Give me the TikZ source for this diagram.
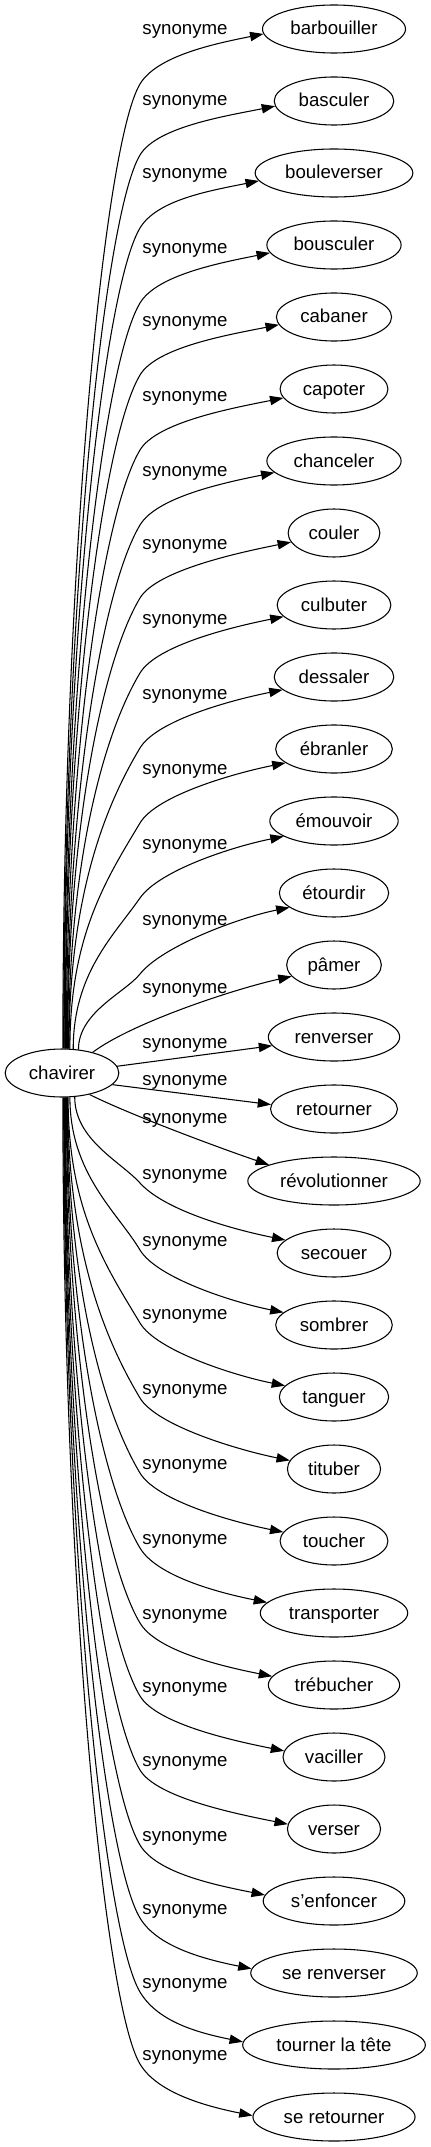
\documentclass[tikz,border=0pt]{standalone}
\usepackage{fontspec}
\setmainfont{Liberation Sans}
\usetikzlibrary{shapes.geometric,arrows.meta}

\begin{document}
\begin{tikzpicture}[
  x=0.75pt, y=-0.75pt,
  word/.style={ellipse, draw=black, line width=0.8pt, minimum height=36pt,
               inner xsep=5.25pt, inner ysep=3pt, text height=11pt, text depth=2pt,
               font=\fontsize{14pt}{17pt}\selectfont},
  rel/.style={inner sep=0pt, text height=11pt, text depth=2pt,
              font=\fontsize{14pt}{17pt}\selectfont},
  syn/.style={-{Triangle[length=10pt,width=7pt]}, line width=0.8pt},
]

% background
\fill[white] (0,0) rectangle (430,2147);

% head word
\node[word] (chavirer) at (62,1073) {chavirer};

% synonyms
\node[word] (barbouiller)   at (334,29)   {barbouiller};
\node[word] (basculer)      at (334,101)  {basculer};
\node[word] (bouleverser)   at (334,173)  {bouleverser};
\node[word] (bousculer)     at (334,245)  {bousculer};
\node[word] (cabaner)       at (334,317)  {cabaner};
\node[word] (capoter)       at (334,389)  {capoter};
\node[word] (chanceler)     at (334,461)  {chanceler};
\node[word] (couler)        at (334,533)  {couler};
\node[word] (culbuter)      at (334,605)  {culbuter};
\node[word] (dessaler)      at (334,677)  {dessaler};
\node[word] (ebranler)      at (334,749)  {ébranler};
\node[word] (emouvoir)      at (334,821)  {émouvoir};
\node[word] (etourdir)      at (334,893)  {étourdir};
\node[word] (pamer)         at (334,965)  {pâmer};
\node[word] (renverser)     at (334,1037) {renverser};
\node[word] (retourner)     at (334,1109) {retourner};
\node[word] (revolutionner) at (334,1181) {révolutionner};
\node[word] (secouer)       at (334,1253) {secouer};
\node[word] (sombrer)       at (334,1325) {sombrer};
\node[word] (tanguer)       at (334,1397) {tanguer};
\node[word] (tituber)       at (334,1469) {tituber};
\node[word] (toucher)       at (334,1541) {toucher};
\node[word] (transporter)   at (334,1613) {transporter};
\node[word] (trebucher)     at (334,1685) {trébucher};
\node[word] (vaciller)      at (334,1757) {vaciller};
\node[word] (verser)        at (334,1829) {verser};
\node[word] (senfoncer)     at (334,1901) {s'enfoncer};
\node[word] (serenverser)   at (334,1973) {se renverser};
\node[word] (tournerlatete) at (334,2045) {tourner la tête};
\node[word] (seretourner)   at (334,2117) {se retourner};

% upper fan
\foreach \w/\ly/\sa/\ea/\tang in {
  barbouiller/29/88/184/0.6, basculer/100/86/185/0.6, bouleverser/173/85/186/0.6,
  bousculer/248/83/187/0.6, cabaner/320/82/188/0.6, capoter/395/80/190/0.6,
  chanceler/470/78/191/0.6, couler/543/77/192/0.6, culbuter/618/75/193/0.6,
  dessaler/693/74/194/0.6, ebranler/768/72/196/0.6, emouvoir/843/65/197/0.7,
  etourdir/919/55/198/0.8}{
  \pgfmathsetmacro\hgt{994-\ly}
  \pgfmathsetmacro\mlen{min(0.25*\hgt,60)}
  \coordinate (k\w) at (140,{\ly+55});
  \node[rel] (l\w) at (185,\ly) {synonyme};
  \draw[syn] (chavirer.\sa) .. controls +(0,{-0.5*\hgt}) and +({-\tang*\mlen},\mlen) .. (k\w)
    .. controls +({\tang*28},-28) and +(-50,10) .. (\w.\ea);
}

% middle edges
\node[rel] (lpamer)         at (185,987)  {synonyme};
\node[rel] (lrenverser)     at (185,1042) {synonyme};
\node[rel] (lretourner)     at (185,1079) {synonyme};
\node[rel] (lrevolutionner) at (185,1117) {synonyme};
\draw[syn] (chavirer.34) .. controls +(40,-30) and +(-55,12) .. (pamer.195);
\draw[syn] (chavirer.7) -- (renverser.188);
\draw[syn] (chavirer.-13) -- (retourner.176);
\draw[syn] (chavirer.-38) .. controls +(40,20) and +(-50,-17) .. (revolutionner.166);

% lower fan
\foreach \w/\ly/\sa/\ea/\tang in {
  secouer/1173/-62/165/0.9, sombrer/1240/-72/166/0.6, tanguer/1313/-76/167/0.6,
  tituber/1388/-77/169/0.6, toucher/1463/-78/170/0.6, transporter/1538/-79/171/0.6,
  trebucher/1613/-80/172/0.6, vaciller/1686/-82/173/0.6, verser/1760/-83/174/0.6,
  senfoncer/1835/-84/175/0.6, serenverser/1908/-85/177/0.6,
  tournerlatete/1982/-86/178/0.6, seretourner/2054/-88/179/0.6}{
  \pgfmathsetmacro\hgt{\ly-1087}
  \pgfmathsetmacro\mlen{min(0.25*\hgt,60)}
  \coordinate (k\w) at (140,{\ly+10});
  \node[rel] (l\w) at (185,\ly) {synonyme};
  \draw[syn] (chavirer.\sa) .. controls +(0,{0.5*\hgt}) and +({-\tang*\mlen},{-\mlen}) .. (k\w)
    .. controls +({\tang*28},28) and +(-50,-10) .. (\w.\ea);
}

\end{tikzpicture}
\end{document}
